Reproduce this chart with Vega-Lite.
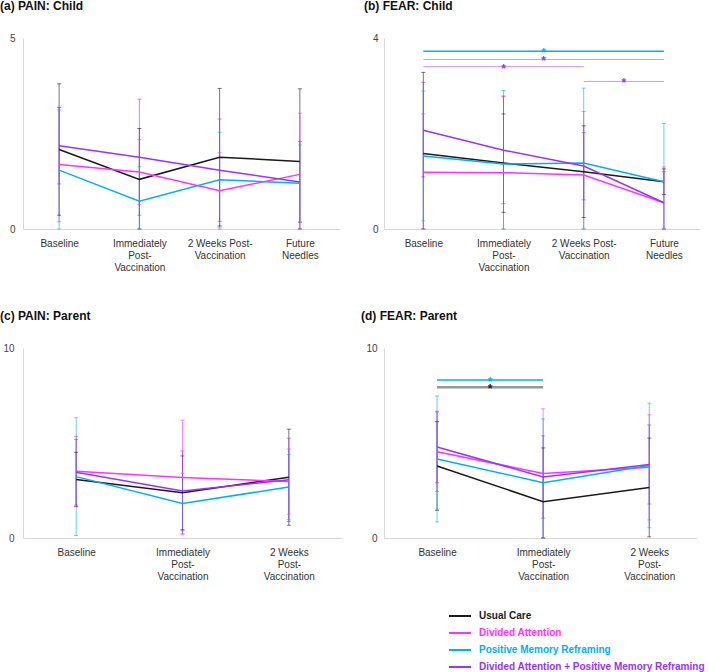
{
  "$schema": "https://vega.github.io/schema/vega-lite/v6.json",
  "autosize": {"type": "pad"},
  "padding": 0,
  "background": "white",
  "datasets": {
    "m": [
      {"panel": "a", "group": "Usual Care", "t": 0, "mean": 2.08, "lo": 0.36, "hi": 3.80},
      {"panel": "a", "group": "Usual Care", "t": 1, "mean": 1.30, "lo": 0.0, "hi": 2.63},
      {"panel": "a", "group": "Usual Care", "t": 2, "mean": 1.88, "lo": 0.08, "hi": 3.68},
      {"panel": "a", "group": "Usual Care", "t": 3, "mean": 1.77, "lo": 0.0, "hi": 3.67},
      {"panel": "a", "group": "Divided Attention", "t": 0, "mean": 1.69, "lo": 0.19, "hi": 3.19},
      {"panel": "a", "group": "Divided Attention", "t": 1, "mean": 1.49, "lo": 0.64, "hi": 2.34},
      {"panel": "a", "group": "Divided Attention", "t": 2, "mean": 1.00, "lo": 0.0, "hi": 2.00},
      {"panel": "a", "group": "Divided Attention", "t": 3, "mean": 1.43, "lo": 0.0, "hi": 3.03},
      {"panel": "a", "group": "Positive Memory Reframing", "t": 0, "mean": 1.54, "lo": 0.0, "hi": 3.11},
      {"panel": "a", "group": "Positive Memory Reframing", "t": 1, "mean": 0.73, "lo": 0.0, "hi": 1.63},
      {"panel": "a", "group": "Positive Memory Reframing", "t": 2, "mean": 1.29, "lo": 0.05, "hi": 2.53},
      {"panel": "a", "group": "Positive Memory Reframing", "t": 3, "mean": 1.20, "lo": 0.20, "hi": 2.20},
      {"panel": "a", "group": "Divided Attention + Positive Memory Reframing", "t": 0, "mean": 2.18, "lo": 1.18, "hi": 3.18},
      {"panel": "a", "group": "Divided Attention + Positive Memory Reframing", "t": 1, "mean": 1.88, "lo": 0.36, "hi": 3.40},
      {"panel": "a", "group": "Divided Attention + Positive Memory Reframing", "t": 2, "mean": 1.54, "lo": 0.20, "hi": 2.88},
      {"panel": "a", "group": "Divided Attention + Positive Memory Reframing", "t": 3, "mean": 1.23, "lo": 0.17, "hi": 2.29},

      {"panel": "b", "group": "Usual Care", "t": 0, "mean": 1.58, "lo": 0.0, "hi": 3.28},
      {"panel": "b", "group": "Usual Care", "t": 1, "mean": 1.38, "lo": 0.35, "hi": 2.41},
      {"panel": "b", "group": "Usual Care", "t": 2, "mean": 1.20, "lo": 0.24, "hi": 2.16},
      {"panel": "b", "group": "Usual Care", "t": 3, "mean": 0.99, "lo": 0.72, "hi": 1.26},
      {"panel": "b", "group": "Divided Attention", "t": 0, "mean": 1.19, "lo": 0.0, "hi": 2.41},
      {"panel": "b", "group": "Divided Attention", "t": 1, "mean": 1.18, "lo": 0.0, "hi": 2.79},
      {"panel": "b", "group": "Divided Attention", "t": 2, "mean": 1.13, "lo": 0.0, "hi": 2.46},
      {"panel": "b", "group": "Divided Attention", "t": 3, "mean": 0.55, "lo": 0.0, "hi": 1.30},
      {"panel": "b", "group": "Positive Memory Reframing", "t": 0, "mean": 1.53, "lo": 0.17, "hi": 2.89},
      {"panel": "b", "group": "Positive Memory Reframing", "t": 1, "mean": 1.36, "lo": 0.0, "hi": 2.90},
      {"panel": "b", "group": "Positive Memory Reframing", "t": 2, "mean": 1.38, "lo": 0.0, "hi": 2.95},
      {"panel": "b", "group": "Positive Memory Reframing", "t": 3, "mean": 0.99, "lo": 0.0, "hi": 2.21},
      {"panel": "b", "group": "Divided Attention + Positive Memory Reframing", "t": 0, "mean": 2.07, "lo": 1.09, "hi": 3.07},
      {"panel": "b", "group": "Divided Attention + Positive Memory Reframing", "t": 1, "mean": 1.65, "lo": 0.53, "hi": 2.77},
      {"panel": "b", "group": "Divided Attention + Positive Memory Reframing", "t": 2, "mean": 1.32, "lo": 0.61, "hi": 2.02},
      {"panel": "b", "group": "Divided Attention + Positive Memory Reframing", "t": 3, "mean": 0.55, "lo": 0.0, "hi": 1.20},

      {"panel": "c", "group": "Usual Care", "t": 0, "mean": 3.08, "lo": 1.65, "hi": 4.51},
      {"panel": "c", "group": "Usual Care", "t": 1, "mean": 2.38, "lo": 0.44, "hi": 4.32},
      {"panel": "c", "group": "Usual Care", "t": 2, "mean": 3.20, "lo": 0.67, "hi": 5.73},
      {"panel": "c", "group": "Divided Attention", "t": 0, "mean": 3.51, "lo": 1.67, "hi": 5.35},
      {"panel": "c", "group": "Divided Attention", "t": 1, "mean": 3.18, "lo": 0.16, "hi": 6.20},
      {"panel": "c", "group": "Divided Attention", "t": 2, "mean": 2.97, "lo": 1.25, "hi": 4.69},
      {"panel": "c", "group": "Positive Memory Reframing", "t": 0, "mean": 3.23, "lo": 0.13, "hi": 6.33},
      {"panel": "c", "group": "Positive Memory Reframing", "t": 1, "mean": 1.82, "lo": 0.23, "hi": 3.41},
      {"panel": "c", "group": "Positive Memory Reframing", "t": 2, "mean": 2.68, "lo": 0.96, "hi": 4.40},
      {"panel": "c", "group": "Divided Attention + Positive Memory Reframing", "t": 0, "mean": 3.46, "lo": 1.73, "hi": 5.19},
      {"panel": "c", "group": "Divided Attention + Positive Memory Reframing", "t": 1, "mean": 2.48, "lo": 0.38, "hi": 4.58},
      {"panel": "c", "group": "Divided Attention + Positive Memory Reframing", "t": 2, "mean": 3.06, "lo": 0.87, "hi": 5.25},

      {"panel": "d", "group": "Usual Care", "t": 0, "mean": 3.79, "lo": 1.46, "hi": 6.12},
      {"panel": "d", "group": "Usual Care", "t": 1, "mean": 1.91, "lo": 0.0, "hi": 4.74},
      {"panel": "d", "group": "Usual Care", "t": 2, "mean": 2.66, "lo": 0.06, "hi": 5.26},
      {"panel": "d", "group": "Divided Attention", "t": 0, "mean": 4.54, "lo": 2.45, "hi": 6.63},
      {"panel": "d", "group": "Divided Attention", "t": 1, "mean": 3.40, "lo": 0.0, "hi": 6.80},
      {"panel": "d", "group": "Divided Attention", "t": 2, "mean": 3.72, "lo": 0.95, "hi": 6.49},
      {"panel": "d", "group": "Positive Memory Reframing", "t": 0, "mean": 4.16, "lo": 0.85, "hi": 7.47},
      {"panel": "d", "group": "Positive Memory Reframing", "t": 1, "mean": 2.91, "lo": 0.0, "hi": 6.27},
      {"panel": "d", "group": "Positive Memory Reframing", "t": 2, "mean": 3.82, "lo": 0.54, "hi": 7.10},
      {"panel": "d", "group": "Divided Attention + Positive Memory Reframing", "t": 0, "mean": 4.79, "lo": 2.91, "hi": 6.67},
      {"panel": "d", "group": "Divided Attention + Positive Memory Reframing", "t": 1, "mean": 3.21, "lo": 1.04, "hi": 5.38},
      {"panel": "d", "group": "Divided Attention + Positive Memory Reframing", "t": 2, "mean": 3.87, "lo": 1.79, "hi": 5.95}
    ],
    "sig": [
      {"panel": "b", "group": "Positive Memory Reframing", "x1": 0, "x2": 3, "xm": 1.5, "y": 3.72},
      {"panel": "b", "group": "Divided Attention + Positive Memory Reframing", "x1": 0, "x2": 3, "xm": 1.5, "y": 3.55},
      {"panel": "b", "group": "Divided Attention + Positive Memory Reframing", "x1": 0, "x2": 2, "xm": 1.0, "y": 3.40},
      {"panel": "b", "group": "Divided Attention + Positive Memory Reframing", "x1": 2, "x2": 3, "xm": 2.5, "y": 3.09},
      {"panel": "d", "group": "Positive Memory Reframing", "x1": 0, "x2": 1, "xm": 0.5, "y": 8.31},
      {"panel": "d", "group": "Usual Care", "x1": 0, "x2": 1, "xm": 0.5, "y": 7.93}
    ]
  },
  "config": {
    "view": {"stroke": null},
    "font": "Liberation Sans",
    "axis": {"domainColor": "#d9d9d9", "domainWidth": 1, "ticks": false, "grid": false, "labelFont": "Liberation Sans", "labelFontSize": 10, "labelColor": "#333333", "title": null, "labelOverlap": false, "labelFlush": false},
    "title": {"anchor": "start", "frame": "group", "font": "Liberation Sans", "fontSize": 12, "fontWeight": "bold", "color": "#111111", "offset": 20},
    "legend": {"title": null, "orient": "none", "legendX": 425, "legendY": 566, "symbolType": "stroke", "symbolSize": 484, "symbolStrokeWidth": 2, "labelFontSize": 10, "labelFontWeight": "bold", "labelFont": "Liberation Sans", "labelOffset": 7, "rowPadding": 0, "padding": 0, "labelLimit": 400}
  },
  "columns": 2,
  "align": "none",
  "bounds": "flush",
  "spacing": {"row": 119, "column": 42},
  "concat": [
    {
      "width": 317, "height": 191,
      "title": {"text": "(a) PAIN: Child", "dx": -23},
      "data": {"name": "m"},
      "transform": [{"filter": "datum.panel == 'a'"}],
      "encoding": {
        "x": {"field": "t", "type": "quantitative", "scale": {"domain": [-0.45, 3.5], "nice": false, "zero": false},
          "axis": {"values": [0, 1, 2, 3], "labelPadding": 9, "labelLineHeight": 12,
            "labelExpr": "datum.value == 0 ? 'Baseline' : datum.value == 1 ? ['Immediately','Post-','Vaccination'] : datum.value == 2 ? ['2 Weeks Post-','Vaccination'] : ['Future','Needles']"}},
        "color": {"field": "group", "type": "nominal",
          "scale": {"domain": ["Usual Care", "Divided Attention", "Positive Memory Reframing", "Divided Attention + Positive Memory Reframing"], "range": ["#1a1a1a", "#ff33ff", "#00b0f0", "#9933ff"]},
          "legend": {"encode": {"labels": {"update": {"fill": {"signal": "datum.label == 'Usual Care' ? '#1a1a1a' : datum.label == 'Divided Attention' ? '#ff33ff' : datum.label == 'Positive Memory Reframing' ? '#00b0f0' : '#9933ff'"}}}}}}
      },
      "layer": [
        {"mark": {"type": "rule", "strokeWidth": 1, "opacity": 0.6},
         "encoding": {"y": {"field": "lo", "type": "quantitative", "scale": {"domain": [0, 5], "nice": false}, "axis": {"values": [0, 5], "labelPadding": 8, "labelColor": "#444444"}}, "y2": {"field": "hi"}}},
        {"mark": {"type": "tick", "orient": "horizontal", "size": 4, "thickness": 1, "opacity": 0.6}, "encoding": {"y": {"field": "lo", "type": "quantitative"}}},
        {"mark": {"type": "tick", "orient": "horizontal", "size": 4, "thickness": 1, "opacity": 0.6}, "encoding": {"y": {"field": "hi", "type": "quantitative"}}},
        {"mark": {"type": "line", "strokeWidth": 1.5}, "encoding": {"y": {"field": "mean", "type": "quantitative"}}}
      ]
    },
    {
      "width": 316, "height": 191,
      "title": {"text": "(b) FEAR: Child", "dx": -20},
      "data": {"name": "m"},
      "transform": [{"filter": "datum.panel == 'b'"}],
      "encoding": {
        "x": {"field": "t", "type": "quantitative", "scale": {"domain": [-0.49, 3.45], "nice": false, "zero": false},
          "axis": {"values": [0, 1, 2, 3], "labelPadding": 9, "labelLineHeight": 12,
            "labelExpr": "datum.value == 0 ? 'Baseline' : datum.value == 1 ? ['Immediately','Post-','Vaccination'] : datum.value == 2 ? ['2 Weeks Post-','Vaccination'] : ['Future','Needles']"}},
        "color": {"field": "group", "type": "nominal",
          "scale": {"domain": ["Usual Care", "Divided Attention", "Positive Memory Reframing", "Divided Attention + Positive Memory Reframing"], "range": ["#1a1a1a", "#ff33ff", "#00b0f0", "#9933ff"]},
          "legend": {"encode": {"labels": {"update": {"fill": {"signal": "datum.label == 'Usual Care' ? '#1a1a1a' : datum.label == 'Divided Attention' ? '#ff33ff' : datum.label == 'Positive Memory Reframing' ? '#00b0f0' : '#9933ff'"}}}}}}
      },
      "layer": [
        {"mark": {"type": "rule", "strokeWidth": 1, "opacity": 0.6},
         "encoding": {"y": {"field": "lo", "type": "quantitative", "scale": {"domain": [0, 4], "nice": false}, "axis": {"values": [0, 4], "labelPadding": 6, "labelColor": "#444444"}}, "y2": {"field": "hi"}}},
        {"mark": {"type": "tick", "orient": "horizontal", "size": 4, "thickness": 1, "opacity": 0.6}, "encoding": {"y": {"field": "lo", "type": "quantitative"}}},
        {"mark": {"type": "tick", "orient": "horizontal", "size": 4, "thickness": 1, "opacity": 0.6}, "encoding": {"y": {"field": "hi", "type": "quantitative"}}},
        {"mark": {"type": "line", "strokeWidth": 1.5}, "encoding": {"y": {"field": "mean", "type": "quantitative"}}},
        {"data": {"name": "sig"}, "transform": [{"filter": "datum.panel == 'b'"}],
         "mark": {"type": "rule"},
         "encoding": {"x": {"field": "x1", "type": "quantitative"}, "x2": {"field": "x2"}, "y": {"field": "y", "type": "quantitative"},
           "opacity": {"condition": {"test": "datum.group == 'Positive Memory Reframing'", "value": 1}, "value": 0.5},
           "strokeWidth": {"condition": {"test": "datum.group == 'Positive Memory Reframing'", "value": 1.5}, "value": 1}}},
        {"data": {"name": "sig"}, "transform": [{"filter": "datum.panel == 'b'"}],
         "mark": {"type": "text", "fontSize": 12, "fontWeight": "bold", "baseline": "alphabetic", "dy": 6},
         "encoding": {"x": {"field": "xm", "type": "quantitative"}, "y": {"field": "y", "type": "quantitative"}, "text": {"value": "*"}}}
      ]
    },
    {
      "width": 319, "height": 190,
      "title": {"text": "(c) PAIN: Parent", "dx": -23},
      "data": {"name": "m"},
      "transform": [{"filter": "datum.panel == 'c'"}],
      "encoding": {
        "x": {"field": "t", "type": "quantitative", "scale": {"domain": [-0.5, 2.5], "nice": false, "zero": false},
          "axis": {"values": [0, 1, 2], "labelPadding": 9, "labelLineHeight": 12,
            "labelExpr": "datum.value == 0 ? 'Baseline' : datum.value == 1 ? ['Immediately','Post-','Vaccination'] : ['2 Weeks','Post-','Vaccination']"}},
        "color": {"field": "group", "type": "nominal",
          "scale": {"domain": ["Usual Care", "Divided Attention", "Positive Memory Reframing", "Divided Attention + Positive Memory Reframing"], "range": ["#1a1a1a", "#ff33ff", "#00b0f0", "#9933ff"]},
          "legend": {"encode": {"labels": {"update": {"fill": {"signal": "datum.label == 'Usual Care' ? '#1a1a1a' : datum.label == 'Divided Attention' ? '#ff33ff' : datum.label == 'Positive Memory Reframing' ? '#00b0f0' : '#9933ff'"}}}}}}
      },
      "layer": [
        {"mark": {"type": "rule", "strokeWidth": 1, "opacity": 0.6},
         "encoding": {"y": {"field": "lo", "type": "quantitative", "scale": {"domain": [0, 10], "nice": false}, "axis": {"values": [0, 10], "labelPadding": 9, "labelColor": "#444444"}}, "y2": {"field": "hi"}}},
        {"mark": {"type": "tick", "orient": "horizontal", "size": 4, "thickness": 1, "opacity": 0.6}, "encoding": {"y": {"field": "lo", "type": "quantitative"}}},
        {"mark": {"type": "tick", "orient": "horizontal", "size": 4, "thickness": 1, "opacity": 0.6}, "encoding": {"y": {"field": "hi", "type": "quantitative"}}},
        {"mark": {"type": "line", "strokeWidth": 1.5}, "encoding": {"y": {"field": "mean", "type": "quantitative"}}}
      ]
    },
    {
      "width": 313, "height": 190,
      "title": {"text": "(d) FEAR: Parent", "dx": -23},
      "data": {"name": "m"},
      "transform": [{"filter": "datum.panel == 'd'"}],
      "encoding": {
        "x": {"field": "t", "type": "quantitative", "scale": {"domain": [-0.5, 2.45], "nice": false, "zero": false},
          "axis": {"values": [0, 1, 2], "labelPadding": 9, "labelLineHeight": 12,
            "labelExpr": "datum.value == 0 ? 'Baseline' : datum.value == 1 ? ['Immediately','Post-','Vaccination'] : ['2 Weeks','Post-','Vaccination']"}},
        "color": {"field": "group", "type": "nominal",
          "scale": {"domain": ["Usual Care", "Divided Attention", "Positive Memory Reframing", "Divided Attention + Positive Memory Reframing"], "range": ["#1a1a1a", "#ff33ff", "#00b0f0", "#9933ff"]},
          "legend": {"encode": {"labels": {"update": {"fill": {"signal": "datum.label == 'Usual Care' ? '#1a1a1a' : datum.label == 'Divided Attention' ? '#ff33ff' : datum.label == 'Positive Memory Reframing' ? '#00b0f0' : '#9933ff'"}}}}}}
      },
      "layer": [
        {"mark": {"type": "rule", "strokeWidth": 1, "opacity": 0.6},
         "encoding": {"y": {"field": "lo", "type": "quantitative", "scale": {"domain": [0, 10], "nice": false}, "axis": {"values": [0, 10], "labelPadding": 7, "labelColor": "#444444"}}, "y2": {"field": "hi"}}},
        {"mark": {"type": "tick", "orient": "horizontal", "size": 4, "thickness": 1, "opacity": 0.6}, "encoding": {"y": {"field": "lo", "type": "quantitative"}}},
        {"mark": {"type": "tick", "orient": "horizontal", "size": 4, "thickness": 1, "opacity": 0.6}, "encoding": {"y": {"field": "hi", "type": "quantitative"}}},
        {"mark": {"type": "line", "strokeWidth": 1.5}, "encoding": {"y": {"field": "mean", "type": "quantitative"}}},
        {"data": {"name": "sig"}, "transform": [{"filter": "datum.panel == 'd'"}],
         "mark": {"type": "rule"},
         "encoding": {"x": {"field": "x1", "type": "quantitative"}, "x2": {"field": "x2"}, "y": {"field": "y", "type": "quantitative"},
           "opacity": {"condition": {"test": "datum.group == 'Usual Care'", "value": 0.45}, "value": 1},
           "strokeWidth": {"condition": {"test": "datum.group == 'Usual Care'", "value": 2.5}, "value": 1.5}}},
        {"data": {"name": "sig"}, "transform": [{"filter": "datum.panel == 'd'"}],
         "mark": {"type": "text", "fontSize": 12, "fontWeight": "bold", "baseline": "alphabetic", "dy": 6},
         "encoding": {"x": {"field": "xm", "type": "quantitative"}, "y": {"field": "y", "type": "quantitative"}, "text": {"value": "*"}}}
      ]
    }
  ]
}
